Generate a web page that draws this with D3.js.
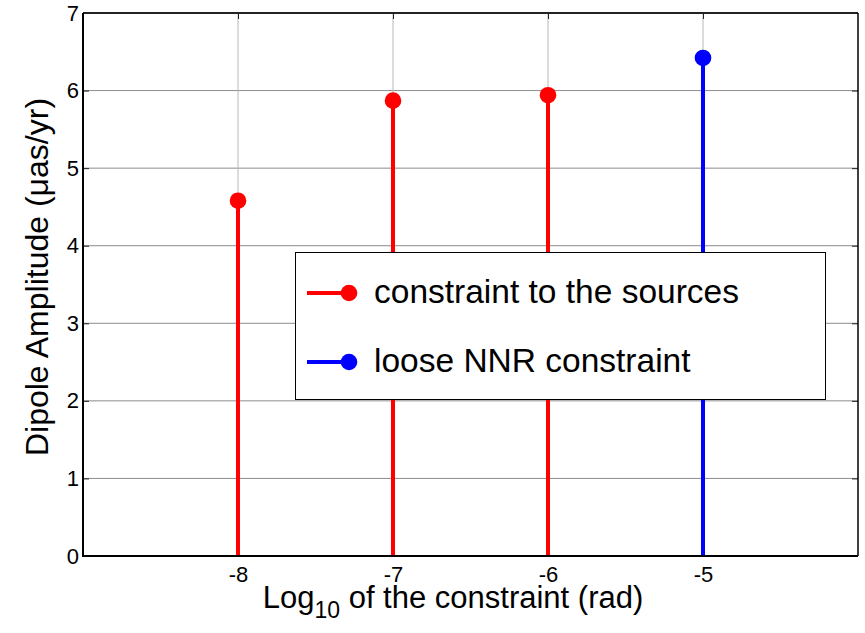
<!DOCTYPE html>
<html>
<head>
<meta charset="utf-8">
<script src="https://cdn.jsdelivr.net/npm/d3@7"></script>
<style>
  html, body { margin: 0; padding: 0; background: #fff; }
  svg { display: block; font-family: "Liberation Sans", Arial, Helvetica, sans-serif; }
</style>
</head>
<body>
<svg id="chart" width="865" height="633"></svg>
<script>
// Dipole amplitude against the log10 of the constraint applied
const constraintLog = [-8, -7, -6, -5];
const dipoleAmplitude = [4.58, 5.87, 5.94, 6.42];
const seriesOf = ["sources", "sources", "sources", "nnr"];
const xTicks = [-8, -7, -6, -5];
const yTicks = [0, 1, 2, 3, 4, 5, 6, 7];
const legendKeys = ["sources", "nnr"];
const legendLabels = ["constraint to the sources", "loose NNR constraint"];
const seriesColor = { sources: "#ff0000", nnr: "#0000ff" };

const plot = { left: 83, right: 858, top: 13, bottom: 556 };
const FONT = "'Liberation Sans', Arial, Helvetica, sans-serif";

const svg = d3.select("#chart");

const x = d3.scaleLinear().domain([-9, -4]).range([plot.left, plot.right]);
const y = d3.scaleLinear().domain([0, 7]).range([plot.bottom, plot.top]);

// grid
const grid = svg.append("g");
grid.selectAll("line.hg").data(yTicks.slice(1, -1)).join("line")
  .attr("x1", plot.left).attr("x2", plot.right)
  .attr("y1", d => y(d)).attr("y2", d => y(d))
  .attr("stroke", "#8c8c8c").attr("stroke-width", 1);
grid.selectAll("line.vg").data(xTicks).join("line")
  .attr("x1", d => x(d)).attr("x2", d => x(d))
  .attr("y1", plot.top).attr("y2", plot.bottom)
  .attr("stroke", "#b8b8b8").attr("stroke-width", 1);

// axes (ticks point inward, MATLAB style); labels use a plain hyphen
const tickLen = 6;
const fmt = d => String(d);
const yAxis = d3.axisLeft(y).tickValues(yTicks).tickSize(-tickLen).tickPadding(4).tickFormat(fmt);
const yAxisR = d3.axisRight(y).tickValues(yTicks).tickSize(-tickLen).tickFormat("");
const xAxis = d3.axisBottom(x).tickValues(xTicks).tickSize(-tickLen).tickPadding(10).tickFormat(fmt);
const xAxisT = d3.axisTop(x).tickValues(xTicks).tickSize(-tickLen).tickFormat("");

function styleAxis(g) {
  g.attr("font-size", 22).attr("font-family", FONT);
  g.select(".domain").remove();
  g.selectAll(".tick line").attr("stroke", "#222").attr("stroke-width", 1);
  g.selectAll(".tick text").attr("fill", "#000").attr("font-size", 22);
}

svg.append("g").attr("transform", `translate(${plot.left},0)`).call(yAxis).call(styleAxis);
svg.append("g").attr("transform", `translate(${plot.right},0)`).call(yAxisR).call(styleAxis);
svg.append("g").attr("transform", `translate(0,${plot.bottom})`).call(xAxis).call(styleAxis);
svg.append("g").attr("transform", `translate(0,${plot.top})`).call(xAxisT).call(styleAxis);

// box
svg.append("line").attr("x1", plot.left).attr("x2", plot.right).attr("y1", plot.top).attr("y2", plot.top)
  .attr("stroke", "#222").attr("stroke-width", 2);
svg.append("line").attr("x1", plot.right).attr("x2", plot.right).attr("y1", plot.top).attr("y2", plot.bottom)
  .attr("stroke", "#000").attr("stroke-width", 1.5);

// stems
const pts = constraintLog.map((c, i) => ({ c, v: dipoleAmplitude[i], s: seriesOf[i] }));
svg.append("g").selectAll("line").data(pts).join("line")
  .attr("x1", d => x(d.c)).attr("x2", d => x(d.c))
  .attr("y1", y(0)).attr("y2", d => y(d.v))
  .attr("stroke", d => seriesColor[d.s]).attr("stroke-width", 4);
svg.append("g").selectAll("circle").data(pts).join("circle")
  .attr("cx", d => x(d.c)).attr("cy", d => y(d.v)).attr("r", 8.3)
  .attr("fill", d => seriesColor[d.s]);

// left and bottom axis lines drawn over stems
svg.append("line").attr("x1", plot.left).attr("x2", plot.left).attr("y1", plot.top).attr("y2", plot.bottom + 1)
  .attr("stroke", "#000").attr("stroke-width", 2);
svg.append("line").attr("x1", plot.left).attr("x2", plot.right).attr("y1", plot.bottom).attr("y2", plot.bottom)
  .attr("stroke", "#000").attr("stroke-width", 2);

// legend
const lg = svg.append("g");
lg.append("rect").attr("x", 295.5).attr("y", 252.5).attr("width", 530).attr("height", 147)
  .attr("fill", "#fff").attr("stroke", "#000").attr("stroke-width", 1);
const rowY = [293, 362];
legendKeys.forEach((k, i) => {
  lg.append("line").attr("x1", 307).attr("x2", 349).attr("y1", rowY[i]).attr("y2", rowY[i])
    .attr("stroke", seriesColor[k]).attr("stroke-width", 4);
  lg.append("circle").attr("cx", 349).attr("cy", rowY[i]).attr("r", 8.3).attr("fill", seriesColor[k]);
  lg.append("text").attr("x", 374).attr("y", rowY[i]).attr("dy", "0.3em")
    .attr("font-size", 33.5).attr("fill", "#000").text(legendLabels[i]);
});

// axis titles
const xt = svg.append("text").attr("x", 453).attr("y", 608).attr("text-anchor", "middle")
  .attr("font-size", 31).attr("fill", "#000");
xt.append("tspan").text("Log");
xt.append("tspan").attr("dy", 10).attr("font-size", 23).text("10");
xt.append("tspan").attr("dy", -10).text(" of the constraint (rad)");

svg.append("text").attr("transform", "translate(48,277) rotate(-90)")
  .attr("text-anchor", "middle").attr("font-size", 32).attr("fill", "#000")
  .text("Dipole Amplitude (\u03bcas/yr)");
</script>
</body>
</html>
